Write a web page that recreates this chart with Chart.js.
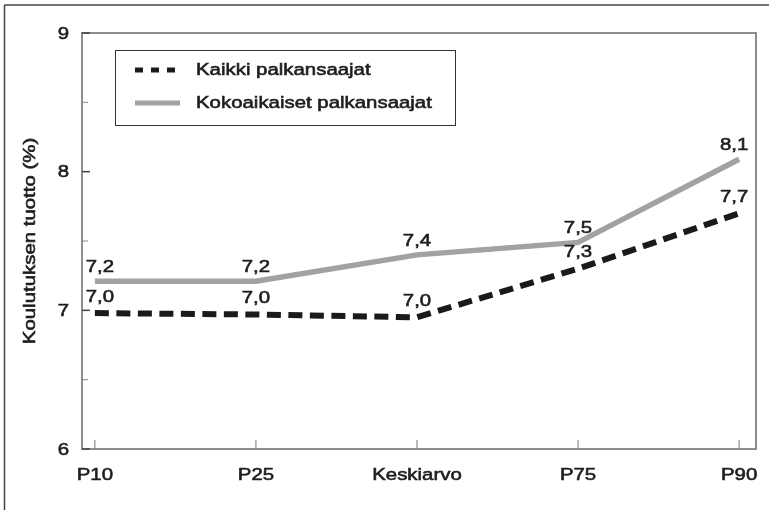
<!DOCTYPE html>
<html>
<head>
<meta charset="utf-8">
<script src="https://cdn.jsdelivr.net/npm/chart.js@4"></script>
<style>
  html, body { margin: 0; padding: 0; background: #fff; }
  #wrap { width: 769px; height: 510px; }
</style>
</head>
<body>
<div id="wrap"><canvas id="chart" width="769" height="510"></canvas></div>
<script>
const categories = ['P10', 'P25', 'Keskiarvo', 'P75', 'P90'];
const kaikki = [6.98, 6.97, 6.95, 7.30, 7.70];
const kokoaikaiset = [7.21, 7.21, 7.40, 7.49, 8.09];
const kaikkiLabels = ['7,0', '7,0', '7,0', '7,3', '7,7'];
const kokoLabels = ['7,2', '7,2', '7,4', '7,5', '8,1'];
const yTicks = [6, 7, 8, 9];
const yMinorTicks = [6.5, 7.5, 8.5];
const seriesNames = ['Kaikki palkansaajat', 'Kokoaikaiset palkansaajat'];
const yTitle = 'Koulutuksen tuotto (%)';

const FONT = '17px "Liberation Sans", Arial, sans-serif';
const STRETCH = 1.2;
const TEXT = '#1e1e1e';

// canvas text, widened and slightly heavier like the original typeface
function wideText(ctx, text, x, y, align, rot) {
  ctx.save();
  ctx.translate(x, y);
  if (rot) ctx.rotate(rot);
  ctx.scale(STRETCH, 1);
  ctx.font = FONT;
  ctx.fillStyle = TEXT;
  ctx.strokeStyle = TEXT;
  ctx.lineWidth = 0.6;
  ctx.textAlign = align;
  ctx.textBaseline = 'middle';
  ctx.fillText(text, 0, 0);
  ctx.strokeText(text, 0, 0);
  ctx.restore();
}

function line(ctx, x1, y1, x2, y2, color, w, dash) {
  ctx.save();
  ctx.strokeStyle = color;
  ctx.lineWidth = w;
  ctx.setLineDash(dash || []);
  ctx.beginPath();
  ctx.moveTo(x1, y1);
  ctx.lineTo(x2, y2);
  ctx.stroke();
  ctx.restore();
}

const frame = {
  id: 'frame',
  beforeDatasetsDraw(chart) {
    const { ctx, chartArea: a, scales: { x, y } } = chart;
    // outer frame (top + left only)
    line(ctx, 4.5, 5, 769, 5, '#444', 1.5);
    line(ctx, 4.5, 5, 4.5, 510, '#444', 1.5);
    // plot border
    ctx.save();
    ctx.strokeStyle = '#8e8e8e';
    ctx.lineWidth = 2;
    ctx.strokeRect(a.left, a.top, a.right - a.left, a.bottom - a.top);
    ctx.restore();
    // y ticks inside the plot
    yTicks.forEach(v => {
      const py = y.getPixelForValue(v);
      line(ctx, a.left, py, a.left + 8, py, '#444', 1.5);
      wideText(ctx, String(v), a.left - 13, py + 1, 'right');
    });
    yMinorTicks.forEach(v => {
      const py = y.getPixelForValue(v);
      line(ctx, a.left, py, a.left + 6, py, '#888', 1);
    });
    // x ticks
    categories.forEach((c, i) => {
      const px = x.getPixelForValue(i);
      line(ctx, px, a.bottom - 9, px, a.bottom, '#777', 1);
      wideText(ctx, c, px, a.bottom + 26, 'center');
    });
    // axis title
    wideText(ctx, yTitle, 30, (a.top + a.bottom) / 2, 'center', -Math.PI / 2);
  },
  afterDatasetsDraw(chart) {
    const { ctx, scales: { x, y } } = chart;
    // value labels
    [[kaikki, kaikkiLabels, 16], [kokoaikaiset, kokoLabels, 14]].forEach(([vals, labs, off]) => {
      vals.forEach((v, i) => {
        let px = x.getPixelForValue(i);
        if (i === 0) px += 5;
        if (i === vals.length - 1) px -= 5;
        wideText(ctx, labs[i], px, y.getPixelForValue(v) - off, 'center');
      });
    });
    // legend
    ctx.save();
    ctx.fillStyle = '#fff';
    ctx.fillRect(115, 50, 340, 75);
    ctx.strokeStyle = '#333';
    ctx.lineWidth = 1;
    ctx.strokeRect(115.5, 50.5, 340, 75);
    ctx.restore();
    const ds = chart.data.datasets;
    line(ctx, 135, 70, 180, 70, ds[0].borderColor, 5, [8, 8]);
    line(ctx, 135, 103, 180, 103, ds[1].borderColor, 5);
    wideText(ctx, ds[0].label, 196, 70, 'left');
    wideText(ctx, ds[1].label, 196, 103, 'left');
  }
};

new Chart(document.getElementById('chart'), {
  type: 'line',
  data: {
    datasets: [
      {
        label: seriesNames[0],
        data: kaikki.map((v, i) => ({ x: i, y: v })),
        borderColor: '#1a1a1a',
        borderWidth: 6,
        borderDash: [14, 7.5],
        pointRadius: 0,
        tension: 0
      },
      {
        label: seriesNames[1],
        data: kokoaikaiset.map((v, i) => ({ x: i, y: v })),
        borderColor: '#a2a2a2',
        borderWidth: 5.5,
        pointRadius: 0,
        tension: 0
      }
    ]
  },
  options: {
    responsive: false,
    devicePixelRatio: 1,
    animation: false,
    layout: { padding: { left: 82, top: 33, right: 13, bottom: 61 } },
    scales: {
      x: { type: 'linear', min: -0.08, max: 4.105, display: false },
      y: { min: 6, max: 9, display: false }
    },
    plugins: { legend: { display: false }, tooltip: { enabled: false } }
  },
  plugins: [frame]
});
</script>
</body>
</html>
